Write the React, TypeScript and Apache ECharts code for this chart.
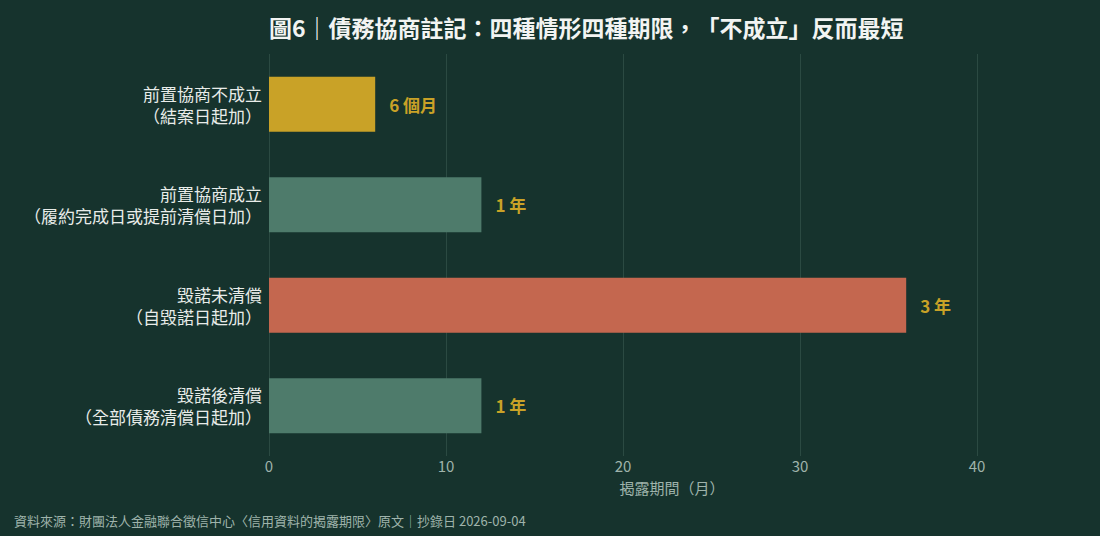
import React, { useEffect, useRef } from 'react';
import * as echarts from 'echarts';

const categories = [
  '前置協商不成立\n（結案日起加）',
  '前置協商成立\n（履約完成日或提前清償日加）',
  '毀諾未清償\n（自毀諾日起加）',
  '毀諾後清償\n（全部債務清償日起加）',
];
const months = [6, 12, 36, 12];
const valueLabels = ['6 個月', '1 年', '3 年', '1 年'];
const barColors = ['#c9a227', '#4e7b6b', '#c4674f', '#4e7b6b'];

const FONT = '"Noto Sans CJK TC", "Noto Sans", sans-serif';

const App: React.FC = () => {
  const chartRef = useRef<HTMLDivElement>(null);

  useEffect(() => {
    document.body.style.margin = '0';
    const chart = echarts.init(chartRef.current, null, { renderer: 'svg' });

    const option = {
      animation: false,
      backgroundColor: '#16332d',
      textStyle: { fontFamily: FONT },
      title: {
        text: '圖6｜債務協商註記：四種情形四種期限，「不成立」反而最短',
        left: 264,
        top: 10,
        textStyle: { color: '#f2f4f2', fontSize: 23, fontWeight: 'bold', fontFamily: FONT },
      },
      graphic: [
        {
          type: 'text',
          left: 14,
          top: 514,
          style: {
            text: '資料來源：財團法人金融聯合徵信中心〈信用資料的揭露期限〉原文｜抄錄日 2026-09-04',
            fill: '#9fb3ab',
            fontSize: 13,
            fontFamily: FONT,
          },
        },
      ],
      grid: { left: 269, right: 123, top: 54, bottom: 80 },
      xAxis: {
        type: 'value',
        min: 0,
        max: 40,
        interval: 10,
        name: '揭露期間（月）',
        nameLocation: 'middle',
        nameGap: 24,
        nameTextStyle: { color: '#9fb3ab', fontSize: 15, padding: [0, 0, 0, 98], fontFamily: FONT },
        axisLine: { show: false },
        axisTick: { show: false },
        axisLabel: { color: '#9fb3ab', fontSize: 15, margin: 2, fontFamily: FONT },
        splitLine: { lineStyle: { color: '#2b4a42', width: 1 } },
      },
      yAxis: {
        type: 'category',
        inverse: true,
        data: categories,
        axisLine: { show: false },
        axisTick: { show: false },
        axisLabel: {
          color: '#e8ece9',
          fontSize: 17,
          lineHeight: 22,
          align: 'right',
          margin: 7,
          fontFamily: FONT,
        },
      },
      series: [
        {
          type: 'bar',
          barWidth: 55,
          data: months.map((v, i) => ({
            value: v,
            itemStyle: { color: barColors[i] },
            label: {
              show: true,
              position: 'right',
              distance: 14,
              formatter: valueLabels[i],
              color: '#c9a227',
              fontSize: 17,
              fontWeight: 'bold',
              fontFamily: FONT,
            },
          })),
        },
      ],
    };

    chart.setOption(option);

    return () => {
      chart.dispose();
    };
  }, []);

  return (
    <div
      ref={chartRef}
      style={{ width: '1100px', height: '536px', textSpacingTrim: 'space-all' } as React.CSSProperties}
    />
  );
};

export default App;
